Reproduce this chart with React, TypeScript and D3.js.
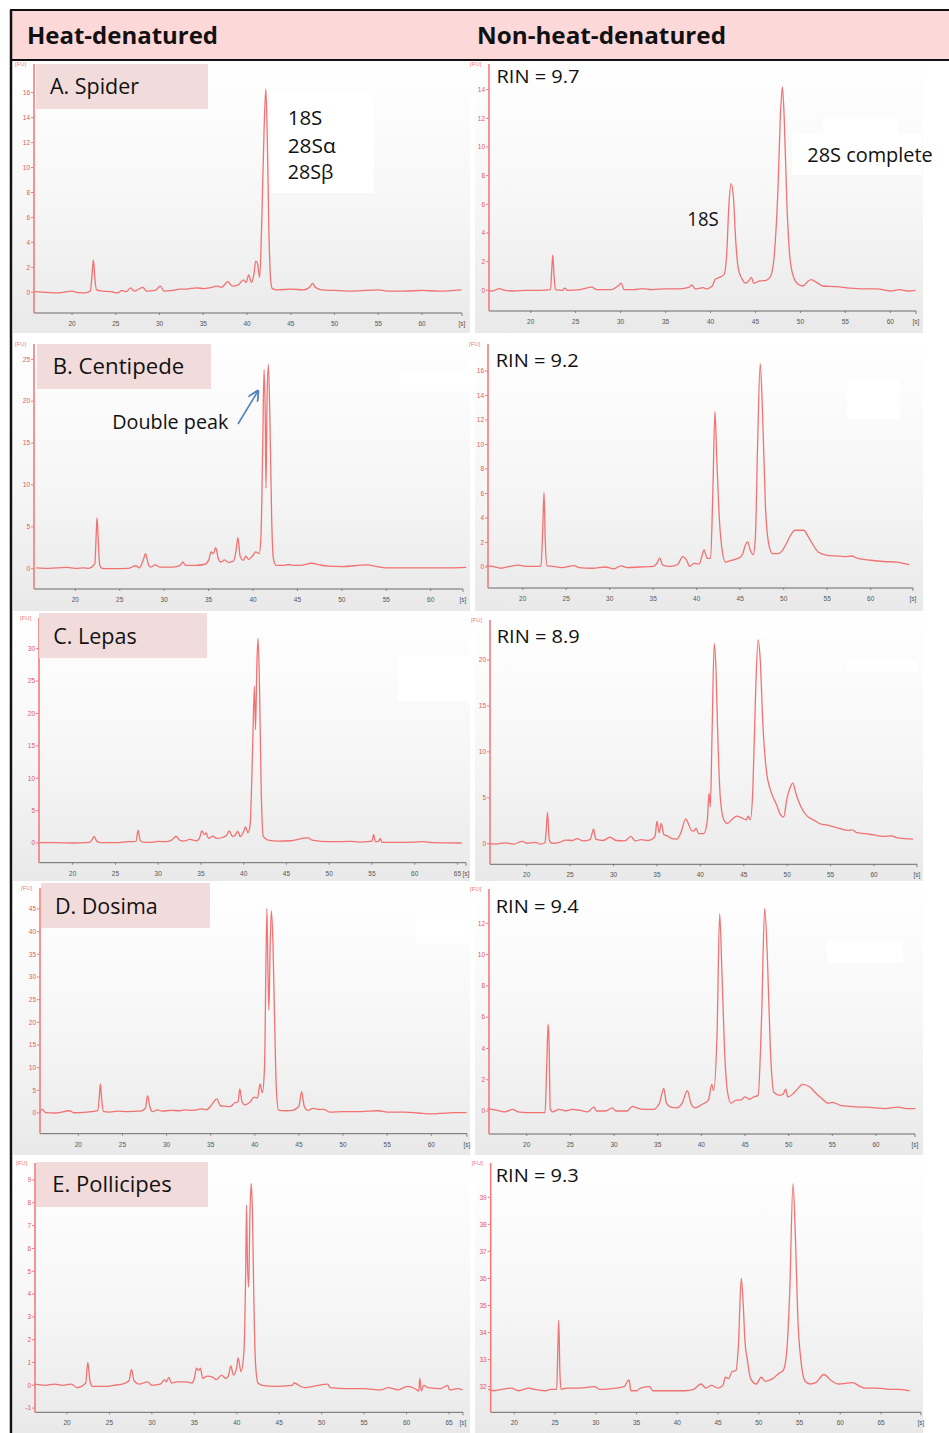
import React from "react";
import * as d3 from "d3";

type Pt = [number, number];

// Bioanalyzer traces, [time in s, fluorescence in FU]
const spiderHeat: Pt[] = [
  [15.7, 0.05], [17, 0.0], [18.5, -0.05], [20, 0.1], [20.5, 0], [21.5, -0.05], [22.1, 0.1], [22.3, 1.5], [22.45, 2.6],
  [22.6, 1.2], [22.8, 0.2], [23.5, 0.1], [24.5, 0.05], [25.2, -0.05], [25.7, 0.15], [26.2, 0.05], [26.7, 0.35], [27.1, 0.1],
  [28.1, 0.4], [28.5, 0.1], [29.5, 0.15], [30.1, 0.5], [30.5, 0.1], [31.5, 0.15], [32.3, 0.25], [33, 0.25], [33.5, 0.3],
  [34.3, 0.35], [35, 0.3], [35.7, 0.35], [36.6, 0.5], [37.1, 0.4], [37.8, 0.85], [38.3, 0.5], [39, 0.6], [39.6, 1.0],
  [39.9, 0.8], [40.2, 1.4], [40.5, 0.8], [40.8, 1.5], [41.0, 2.5], [41.2, 2.3], [41.45, 1.2], [41.7, 6], [41.95, 13],
  [42.15, 16.3], [42.3, 13], [42.5, 5], [42.7, 1.0], [42.9, 0.3], [43.5, 0.2], [45, 0.25], [46.5, 0.2], [47.2, 0.45],
  [47.5, 0.72], [47.8, 0.4], [48.5, 0.2], [50, 0.15], [52, 0.1], [55, 0.2], [56, 0.1], [58, 0.1], [60, 0.15], [62, 0.1],
  [64.5, 0.2],
];
const spiderNative: Pt[] = [
  [15.4, -0.05], [16, 0.0], [16.5, 0.12], [17, 0.02], [18, -0.05], [19.5, 0.0], [21, 0.0], [22.2, 0.05], [22.35, 1.5],
  [22.45, 2.45], [22.6, 1.0], [22.75, 0.05], [23.5, 0.0], [23.8, 0.15], [24.1, 0.0], [25.5, 0.05], [26.8, 0.22], [27.3, 0.05],
  [29, 0.05], [29.8, 0.35], [30.05, 0.5], [30.4, 0.05], [31.5, 0.05], [32.4, 0.12], [33.5, 0.05], [35, 0.1], [36.5, 0.1],
  [37.6, 0.2], [37.9, 0.38], [38.3, 0.1], [39.2, 0.18], [39.5, 0.1], [40.2, 0.3], [40.5, 0.75], [41.0, 0.9], [41.5, 1.1],
  [41.8, 2.5], [42.05, 6], [42.3, 7.45], [42.55, 6.5], [42.8, 3.5], [43.1, 1.5], [43.5, 0.8], [43.9, 0.5], [44.3, 0.7],
  [44.55, 0.9], [44.8, 0.5], [45.5, 0.65], [46.2, 0.7], [46.7, 1.0], [47.1, 2.5], [47.5, 7], [47.8, 12.5], [48.0, 14.2],
  [48.2, 12], [48.5, 6], [48.8, 2.5], [49.2, 1.0], [49.8, 0.4], [50.3, 0.3], [50.8, 0.6], [51.2, 0.75], [51.8, 0.55],
  [52.5, 0.3], [54, 0.25], [55.5, 0.15], [57, 0.1], [58.5, 0.1], [60, -0.05], [61, 0.05], [62, -0.05], [62.8, 0.0],
];
const centipedeHeat: Pt[] = [
  [15.6, 0.1], [17, 0.05], [19, 0.15], [20, 0.05], [21, 0.1], [21.5, 0.05], [22.2, 0.6], [22.35, 4], [22.45, 6.1],
  [22.6, 3], [22.75, 0.4], [23, 0.05], [24, 0.0], [26, 0.05], [26.8, 0.35], [27.2, 0.1], [27.7, 1.2], [27.9, 1.8],
  [28.2, 0.6], [28.5, 0.2], [29, 0.45], [29.5, 0.2], [31, 0.2], [31.8, 0.4], [32.1, 0.8], [32.4, 0.4], [33.5, 0.4],
  [34.5, 0.5], [35.0, 1.0], [35.3, 2.0], [35.55, 1.8], [35.8, 2.5], [36.1, 1.2], [36.4, 0.8], [36.8, 1.05], [37.2, 0.75],
  [37.8, 0.9], [38.1, 2.2], [38.3, 3.7], [38.55, 1.5], [38.9, 1.0], [39.2, 1.5], [39.5, 1.1], [40.0, 1.6], [40.3, 2.0],
  [40.7, 1.8], [40.9, 4], [41.1, 15], [41.24, 23.8], [41.38, 18], [41.46, 9.6], [41.58, 20], [41.73, 24.4], [41.9, 18],
  [42.1, 6], [42.3, 1.2], [42.6, 0.4], [43.5, 0.4], [44, 0.5], [44.5, 0.4], [45.3, 0.4], [46.6, 0.65], [47.5, 0.45],
  [48.5, 0.3], [50, 0.25], [52.8, 0.45], [54, 0.25], [55, 0.1], [57, 0.1], [60, 0.1], [62, 0.1], [64, 0.15],
];
const centipedeNative: Pt[] = [
  [15.8, 0.1], [16.5, 0.05], [17.5, -0.1], [18.5, 0.05], [19.5, 0.15], [20.5, 0.05], [21.5, 0.05], [22.1, 0.1], [22.3, 3],
  [22.45, 6.1], [22.6, 2], [22.8, 0.1], [23.5, 0.05], [24.5, -0.05], [25.9, 0.12], [26.5, -0.05], [28, -0.1], [29.5, 0.0],
  [30.5, -0.15], [31.3, 0.1], [32, -0.05], [33.5, 0.0], [35, 0.05], [35.5, 0.4], [35.75, 0.75], [36.1, 0.15], [37, 0.05],
  [37.8, 0.2], [38.4, 0.85], [38.8, 0.6], [39.2, 0.05], [39.7, 0.3], [40.3, 0.25], [40.6, 0.9], [40.85, 1.4], [41.2, 0.7],
  [41.6, 0.7], [41.85, 6], [42.1, 12.7], [42.3, 9], [42.6, 4], [42.9, 1.5], [43.3, 0.4], [43.8, 0.5], [44.5, 0.65],
  [45.0, 0.8], [45.3, 1.1], [45.6, 1.8], [45.85, 2.05], [46.2, 1.3], [46.5, 1.0], [46.75, 2.5], [47.0, 10], [47.3, 16.6],
  [47.55, 13], [47.9, 5], [48.3, 1.8], [48.7, 1.1], [49.3, 1.1], [49.8, 1.3], [50.3, 1.9], [50.8, 2.6], [51.3, 3.0],
  [52.3, 3.0], [52.8, 2.5], [53.3, 1.9], [54, 1.2], [55, 0.95], [56, 0.9], [57, 0.85], [57.8, 0.9], [58.5, 0.7], [60, 0.55],
  [61.5, 0.45], [63, 0.4], [63.7, 0.3], [64.4, 0.2],
];
const lepasHeat: Pt[] = [
  [16, 0.05], [18, 0.05], [20, 0], [22, 0.1], [22.3, 0.6], [22.5, 1.0], [22.8, 0.3], [23.2, 0.05], [25, 0.05], [26.5, 0.2],
  [27.4, 0.25], [27.65, 2.0], [27.9, 0.4], [28.3, 0.1], [29.5, 0.15], [30, 0.25], [31, 0.2], [31.5, 0.4], [32.1, 1.0],
  [32.5, 0.45], [33, 0.3], [33.7, 0.55], [34.5, 0.35], [34.9, 1.0], [35.1, 1.85], [35.4, 1.3], [35.6, 1.55], [35.9, 0.7],
  [36.4, 1.05], [36.8, 0.7], [37.5, 0.85], [38.0, 1.2], [38.3, 1.85], [38.7, 1.0], [39.0, 1.2], [39.3, 1.8], [39.6, 1.0],
  [40.0, 1.8], [40.2, 2.5], [40.5, 1.6], [40.75, 2.8], [41.05, 15], [41.25, 24.2], [41.38, 17.5], [41.55, 28],
  [41.68, 31.6], [41.85, 24], [42.05, 8], [42.3, 1.0], [43, 0.4], [44, 0.3], [45.5, 0.35], [46.5, 0.6], [47.0, 0.75],
  [47.5, 0.8], [48, 0.45], [50, 0.2], [52.5, 0.25], [53.5, 0.15], [55.0, 0.3], [55.2, 1.3], [55.4, 0.2], [55.8, 0.3],
  [55.95, 0.7], [56.2, 0.1], [58, 0.1], [60, 0.15], [61, 0.2], [62, 0.05], [65.5, 0],
];
const lepasNative: Pt[] = [
  [15.6, 0], [16.5, -0.05], [17.5, 0.1], [18.5, -0.05], [19.5, 0.25], [20, 0.05], [21, 0.15], [21.6, -0.05], [22.1, 0.1],
  [22.25, 1.5], [22.4, 3.4], [22.6, 0.4], [22.9, 0.05], [23.8, 0.15], [24.5, 0.4], [25.3, 0.35], [25.8, 0.55], [26.5, 0.3],
  [27.3, 0.45], [27.55, 1.2], [27.7, 1.6], [27.95, 0.5], [28.8, 0.35], [29.6, 0.7], [30.3, 0.35], [31.3, 0.3], [32, 0.8],
  [32.5, 0.3], [33.2, 0.45], [34, 0.35], [34.6, 0.6], [34.8, 0.9], [35.0, 2.45], [35.25, 1.2], [35.5, 2.2], [35.8, 1.0],
  [36.3, 0.8], [36.7, 0.55], [37.3, 0.5], [37.8, 1.3], [38.3, 2.7], [38.7, 2.0], [39.0, 1.4], [39.3, 1.4], [39.5, 1.7],
  [39.8, 1.1], [40.4, 1.1], [40.8, 2.5], [41.0, 5.5], [41.15, 4.0], [41.35, 12], [41.6, 21.8], [41.8, 19], [42.0, 12],
  [42.3, 5], [42.7, 2.6], [43.1, 2.2], [43.6, 2.6], [44.2, 3.0], [44.8, 2.8], [45.3, 2.6], [45.5, 3.0], [45.75, 2.6],
  [46.05, 6], [46.35, 16], [46.65, 22.2], [46.9, 20], [47.2, 13], [47.6, 8], [48.2, 5.5], [48.8, 4.2], [49.2, 3.2],
  [49.6, 2.9], [49.95, 4.8], [50.3, 6.0], [50.65, 6.6], [51.0, 5.5], [51.6, 4.0], [52.3, 3.0], [53.0, 2.6], [54.0, 2.1],
  [54.5, 2.05], [55.5, 1.8], [57, 1.45], [57.5, 1.5], [58, 1.2], [59, 1.1], [60, 0.95], [61, 0.8], [62, 0.85], [62.5, 0.7],
  [63.5, 0.55], [64.5, 0.5],
];
const dosimaHeat: Pt[] = [
  [15.6, 0.1], [15.9, 0.8], [16.3, 0.1], [17.5, 0.0], [19.0, 0.5], [19.5, 0.05], [21.0, 0.2], [22.2, 0.5], [22.4, 4],
  [22.5, 6.4], [22.65, 3], [22.85, 0.3], [23.5, 0.2], [24.5, 0.4], [25.5, 0.3], [27, 0.4], [27.6, 1.0], [27.85, 3.8],
  [28.1, 1.5], [28.4, 0.3], [29.0, 0.7], [29.5, 0.4], [30.5, 0.6], [31.5, 0.5], [32, 0.7], [33, 0.6], [34, 0.9], [34.5, 0.7],
  [35.0, 1.5], [35.4, 2.6], [35.7, 3.1], [36.1, 1.6], [36.6, 1.5], [37.2, 1.4], [37.7, 2.2], [38.1, 2.5], [38.3, 5.3],
  [38.55, 2.5], [38.9, 1.8], [39.5, 2.5], [39.9, 3.5], [40.3, 3.3], [40.6, 6.4], [40.85, 4.5], [41.1, 10], [41.37, 45.1],
  [41.5, 30], [41.6, 22.7], [41.72, 35], [41.87, 44.6], [42.05, 38], [42.25, 20], [42.45, 5], [42.7, 0.6], [43.5, 0.5],
  [44.3, 0.6], [45.0, 1.5], [45.3, 4.7], [45.6, 1.5], [46.0, 0.6], [46.6, 1.0], [47.2, 0.8], [47.8, 0.8], [48.5, 0.2],
  [50, 0.3], [52, 0.3], [54, 0.5], [55, 0.2], [57, 0.2], [58.5, 0], [60, -0.2], [61, -0.1], [62.5, 0.1], [64, 0.1],
];
const dosimaNative: Pt[] = [
  [15.5, 0.15], [16.5, 0.05], [17.5, -0.05], [18.4, 0.1], [19, -0.05], [20, -0.1], [21, -0.1], [22.1, -0.1], [22.3, 3],
  [22.45, 5.55], [22.55, 4.6], [22.7, 0.1], [23.0, -0.05], [23.7, 0.1], [24.5, 0.0], [25.2, 0.1], [26, 0.05], [27, -0.05],
  [27.7, 0.25], [28, 0.0], [29, 0.0], [29.8, 0.2], [30.2, 0.0], [31.5, 0.0], [32.1, 0.3], [32.6, 0.2], [33.5, 0.1],
  [34.5, 0.1], [35.2, 0.5], [35.7, 1.45], [36.0, 0.5], [36.5, 0.25], [37.2, 0.2], [37.8, 0.5], [38.4, 1.3], [38.8, 0.5],
  [39.3, 0.2], [40, 0.4], [40.8, 0.7], [41.2, 1.7], [41.4, 1.3], [41.8, 5], [42.1, 12.6], [42.35, 9], [42.65, 4],
  [43.0, 1.2], [43.4, 0.5], [44, 0.7], [44.5, 0.7], [45.0, 0.9], [45.5, 0.75], [46.0, 0.9], [46.5, 1.0], [46.9, 6],
  [47.25, 12.95], [47.55, 10], [47.9, 4], [48.3, 1.2], [49, 1.0], [49.4, 1.1], [49.65, 1.4], [49.9, 0.9], [50.5, 1.1],
  [51, 1.4], [51.6, 1.7], [52.2, 1.6], [52.5, 1.5], [53, 1.2], [53.8, 0.8], [54.5, 0.5], [55, 0.55], [56, 0.35], [57, 0.3],
  [58, 0.25], [59, 0.25], [60, 0.2], [61, 0.15], [62.5, 0.25], [63.5, 0.15], [64.5, 0.15],
];
const pollicipesHeat: Pt[] = [
  [16.2, 0.05], [17.5, 0.0], [18.5, 0.05], [19.5, 0.0], [20.5, 0.05], [21.2, -0.1], [22.2, 0.1], [22.45, 1.0], [22.7, 0.2],
  [23, -0.05], [24.5, -0.05], [25.5, 0.0], [26.5, 0.05], [27.3, 0.2], [27.6, 0.7], [27.9, 0.2], [28.5, 0.05], [29.5, 0.15],
  [30, 0.0], [31, 0.05], [31.5, 0.25], [31.7, 0.15], [32.0, 0.35], [32.3, 0.1], [33, 0.15], [34, 0.15], [34.7, 0.1],
  [35.0, 0.3], [35.25, 0.75], [35.5, 0.65], [35.7, 0.75], [36.0, 0.3], [36.5, 0.4], [37.2, 0.35], [37.6, 0.25], [38.2, 0.45],
  [38.7, 0.3], [39.0, 0.4], [39.3, 0.85], [39.6, 0.45], [40.0, 0.8], [40.15, 1.2], [40.5, 0.6], [40.85, 1.5], [41.05, 5],
  [41.15, 7.9], [41.25, 5.5], [41.4, 4.3], [41.55, 7.5], [41.7, 8.85], [41.85, 7.5], [42.0, 4], [42.2, 1.0], [42.5, 0.1],
  [43, 0.0], [44.5, -0.05], [46.5, 0.0], [46.8, 0.1], [47.5, -0.05], [48, -0.1], [49, -0.05], [50.7, 0.05], [51, -0.1],
  [53, -0.15], [55, -0.15], [57, -0.2], [57.8, -0.1], [59, -0.2], [60.1, -0.05], [61, -0.15], [61.45, -0.25], [61.55, 0.3],
  [61.75, -0.25], [62, 0.0], [62.5, -0.1], [64, -0.15], [64.85, 0.0], [65.05, -0.2], [66, -0.15], [66.6, -0.2],
];
const pollicipesNative: Pt[] = [
  [16.8, 31.9], [17.5, 31.85], [18.5, 31.9], [19.6, 31.95], [20.5, 31.85], [21.8, 31.95], [22.5, 31.9], [23.8, 31.85],
  [24.5, 31.9], [25.2, 31.9], [25.35, 33.5], [25.45, 34.45], [25.6, 32.5], [25.75, 31.9], [26.5, 31.95], [28, 31.95],
  [29.8, 32.0], [30.5, 31.9], [32.5, 31.95], [33.5, 32.0], [33.9, 32.2], [34.1, 32.25], [34.3, 31.85], [35, 31.85],
  [35.5, 31.95], [36.6, 32.0], [37, 31.85], [38.5, 31.85], [40, 31.85], [41, 31.85], [42, 31.9], [42.9, 32.1], [43.5, 31.95],
  [44.2, 32.05], [45, 31.95], [45.6, 32.05], [45.9, 32.35], [46.3, 32.3], [46.7, 32.55], [47.2, 32.6], [47.5, 33.5],
  [47.85, 36.0], [48.1, 35.0], [48.3, 33.7], [48.6, 33.0], [49.0, 32.3], [49.7, 32.1], [50.3, 32.35], [50.8, 32.2],
  [51.7, 32.3], [52.5, 32.5], [53.0, 32.6], [53.4, 33.2], [53.8, 35.5], [54.2, 39.5], [54.5, 37.5], [54.8, 34.5],
  [55.2, 32.9], [55.7, 32.2], [56.3, 32.1], [57.0, 32.15], [58.0, 32.45], [58.8, 32.25], [59.8, 32.1], [61.5, 32.15],
  [62.5, 32.0], [63, 31.95], [64.5, 31.95], [66, 31.9], [67, 31.9], [68.5, 31.85],
];

const columnTitles = ["Heat-denatured", "Non-heat-denatured"];
const sampleNames = ["A. Spider", "B.  Centipede", "C. Lepas", "D. Dosima", "E. Pollicipes"];
const rinValues = ["9.7", "9.2", "8.9", "9.4", "9.3"];

const xTicks60 = [20, 25, 30, 35, 40, 45, 50, 55, 60];
const xTicks65 = [20, 25, 30, 35, 40, 45, 50, 55, 60, 65];
const yTicksA = [0, 2, 4, 6, 8, 10, 12, 14, 16];
const yTicksAR = [0, 2, 4, 6, 8, 10, 12, 14];
const yTicksB = [0, 5, 10, 15, 20, 25];
const yTicksBR = [0, 2, 4, 6, 8, 10, 12, 14, 16];
const yTicksC = [0, 5, 10, 15, 20, 25, 30];
const yTicksCR = [0, 5, 10, 15, 20];
const yTicksD = [0, 5, 10, 15, 20, 25, 30, 35, 40, 45];
const yTicksDR = [0, 2, 4, 6, 8, 10, 12];
const yTicksE = [-1, 0, 1, 2, 3, 4, 5, 6, 7, 8, 9];
const yTicksER = [32, 33, 34, 35, 36, 37, 38, 39];

// screenshot geometry: bg box, y-axis x, axis top, x-axis y, axis end, two x refs, two y refs
type Panel = {
  data: Pt[]; yTicks: number[]; xTicks: number[];
  bg: number[]; ax: number; top: number; base: number; end: number;
  xs: number[]; ys: number[]; endLabel?: string;
};

const panels: Panel[] = [
  { data: spiderHeat, yTicks: yTicksA, xTicks: xTicks60, bg: [13, 61, 457, 272], ax: 34, top: 64, base: 313, end: 462, xs: [20, 72, 60, 422], ys: [0, 292.3, 16, 92.7] },
  { data: spiderNative, yTicks: yTicksAR, xTicks: xTicks60, bg: [475, 61, 448, 272], ax: 489, top: 64, base: 311, end: 916, xs: [20, 530.7, 60, 890.3], ys: [0, 290.3, 14, 89.7] },
  { data: centipedeHeat, yTicks: yTicksB, xTicks: xTicks60, bg: [13, 337, 457, 274], ax: 34, top: 344, base: 589, end: 463, xs: [20, 75.3, 60, 430.7], ys: [0, 568.7, 25, 359.3] },
  { data: centipedeNative, yTicks: yTicksBR, xTicks: xTicks60, bg: [475, 337, 448, 274], ax: 488, top: 344, base: 588, end: 913, xs: [20, 522.7, 60, 870.7], ys: [0, 567, 16, 371] },
  { data: lepasHeat, yTicks: yTicksC, xTicks: xTicks65, bg: [13, 613, 457, 268], ax: 39, top: 618, base: 862.7, end: 466, xs: [20, 72.7, 60, 414.7], ys: [0, 843, 30, 648.7] },
  { data: lepasNative, yTicks: yTicksCR, xTicks: xTicks60, bg: [475, 613, 448, 268], ax: 490, top: 620, base: 864.3, end: 917, xs: [20, 526.7, 60, 874], ys: [0, 843.7, 20, 660] },
  { data: dosimaHeat, yTicks: yTicksD, xTicks: xTicks60, bg: [13, 883, 457, 272], ax: 40, top: 888, base: 1133.7, end: 467, xs: [20, 78.3, 60, 431.3], ys: [0, 1113, 45, 909] },
  { data: dosimaNative, yTicks: yTicksDR, xTicks: xTicks60, bg: [475, 883, 448, 272], ax: 489, top: 889, base: 1134, end: 915, xs: [20, 526.7, 60, 876], ys: [0, 1111, 12, 923.3] },
  { data: pollicipesHeat, yTicks: yTicksE, xTicks: xTicks65, bg: [13, 1157, 457, 276], ax: 35, top: 1163, base: 1412.3, end: 463, xs: [20, 67, 65, 449], ys: [0, 1385.3, 9, 1180] },
  { data: pollicipesNative, yTicks: yTicksER, xTicks: xTicks65, bg: [475, 1157, 448, 276], ax: 490.7, top: 1163, base: 1412.3, end: 921, xs: [20, 514.3, 65, 881], ys: [32, 1386.7, 39, 1197.3] },
];

// pink label boxes and text (x, baseline, width)
const labelBoxes = [[36, 64, 172, 45], [37, 344, 174, 45], [39, 613, 168, 45], [41, 883, 169, 45], [36, 1162, 172, 45]];
const labelText = [[50, 94, 89], [52.7, 374, 131.6], [53.3, 644, 83.4], [55, 914, 102.7], [52.3, 1192, 119.4]];
const rinText = [[496.5, 83.3], [495.7, 366.7], [496.7, 642.7], [495.7, 912.7], [495.7, 1182.3]];
const whiteMasks = [
  [271, 93, 103, 100], [792, 133, 130, 42], [823, 117, 75, 16], [400, 373, 70, 18], [847, 380, 53, 39],
  [398, 656, 72, 45], [847, 660, 70, 11], [416, 919, 53, 24], [827, 940, 76, 23],
];

const FONT = "'Open Sans', 'Noto Sans', sans-serif";
const TICKFONT = "'Liberation Sans', Arial, sans-serif";
const TRACE = "#f26464";
const AXIS = "#f37b7b";

function Electropherogram({ p }: { p: Panel }) {
  const x = d3.scaleLinear().domain([p.xs[0], p.xs[2]]).range([p.xs[1], p.xs[3]]);
  const y = d3.scaleLinear().domain([p.ys[0], p.ys[2]]).range([p.ys[1], p.ys[3]]);
  const line = d3.line<Pt>().x((d) => x(d[0])).y((d) => y(d[1])).curve(d3.curveMonotoneX);
  const [bx, by, bw, bh] = p.bg;
  return (
    <g>
      <rect x={bx} y={by} width={bw} height={bh} fill="url(#shot)" />
      <path d={line(p.data) ?? ""} fill="none" stroke={TRACE} strokeWidth={1.3} strokeOpacity={0.9} strokeLinejoin="round" />
      <line x1={p.ax} x2={p.end} y1={p.base} y2={p.base} stroke="#6b6b6b" strokeWidth={1} />
      <line x1={p.ax} x2={p.ax} y1={p.top} y2={p.base} stroke={AXIS} strokeWidth={1.6} />
      <text x={p.ax - 19} y={p.top + 2} fontFamily={TICKFONT} fontSize={6} fill={AXIS}>[FU]</text>
      {p.yTicks.map((t) => (
        <g key={t}>
          <line x1={p.ax - 3} x2={p.ax} y1={y(t)} y2={y(t)} stroke={AXIS} strokeWidth={1} />
          <text x={p.ax - 4} y={y(t)} dy="0.35em" textAnchor="end" fontFamily={TICKFONT} fontSize={6.5} fill="#e05a5a">{t}</text>
        </g>
      ))}
      {p.xTicks.map((t) => (
        <g key={t}>
          <line x1={x(t)} x2={x(t)} y1={p.base} y2={p.base + 2} stroke="#6b6b6b" strokeWidth={0.8} />
          <text x={x(t)} y={p.base + 13} textAnchor="middle" fontFamily={TICKFONT} fontSize={6.5} fill="#555">{t}</text>
        </g>
      ))}
      <line x1={p.end} x2={p.end} y1={p.base} y2={p.base + 3} stroke="#6b6b6b" strokeWidth={0.8} />
      <text x={p.end} y={p.base + 13} textAnchor="middle" fontFamily={TICKFONT} fontSize={6.5} fill="#555">[s]</text>
    </g>
  );
}

export default function App() {
  return (
    <svg width={949} height={1433} viewBox="0 0 949 1433" style={{ position: "absolute", left: 0, top: 0, background: "#fff" }}>
      <defs>
        <linearGradient id="shot" x1="0" y1="0" x2="0" y2="1">
          <stop offset="0" stopColor="#ffffff" />
          <stop offset="0.55" stopColor="#f6f6f6" />
          <stop offset="1" stopColor="#e9e9e9" />
        </linearGradient>
        <marker id="arrowhead" viewBox="0 0 10 10" refX="9" refY="5" markerWidth="7" markerHeight="7" orient="auto">
          <path d="M0,0 L10,5 L0,10" fill="none" stroke="#4f81bd" strokeWidth={1.6} />
        </marker>
      </defs>

      {panels.map((p, i) => <Electropherogram key={i} p={p} />)}

      {whiteMasks.map(([mx, my, mw, mh], i) => (
        <rect key={i} x={mx} y={my} width={mw} height={mh} fill="#ffffff" />
      ))}

      {labelBoxes.map(([lx, ly, lw, lh], i) => (
        <g key={i}>
          <rect x={lx} y={ly} width={lw} height={lh} fill="#f2dcdb" />
          <text x={labelText[i][0]} y={labelText[i][1]} textLength={labelText[i][2]} lengthAdjust="spacingAndGlyphs"
            fontFamily={FONT} fontSize={22} fill="#111">{sampleNames[i]}</text>
        </g>
      ))}

      {rinValues.map((r, i) => (
        <text key={i} x={rinText[i][0]} y={rinText[i][1]} textLength={83} lengthAdjust="spacingAndGlyphs"
          fontFamily={FONT} fontSize={19} fill="#111">{`RIN = ${r}`}</text>
      ))}

      {/* annotations */}
      <g fontFamily={FONT} fontSize={20} fill="#111">
        <text x={287.7} y={125} textLength={34.6} lengthAdjust="spacingAndGlyphs">18S</text>
        <text x={287.7} y={152.7} textLength={48} lengthAdjust="spacingAndGlyphs">28Sα</text>
        <text x={287.7} y={178.5} textLength={45.6} lengthAdjust="spacingAndGlyphs">28Sβ</text>
        <text x={687.3} y={225.7} textLength={31.4} lengthAdjust="spacingAndGlyphs">18S</text>
        <text x={807.3} y={162.3} textLength={125.4} lengthAdjust="spacingAndGlyphs">28S complete</text>
        <text x={112.3} y={429} textLength={116} lengthAdjust="spacingAndGlyphs">Double peak</text>
      </g>
      <line x1={238} y1={424} x2={258} y2={391} stroke="#4f81bd" strokeWidth={1.6} markerEnd="url(#arrowhead)" />

      {/* header band and left rule */}
      <rect x={11} y={10} width={945} height={50} fill="#fdd8d8" stroke="#111" strokeWidth={2} />
      <line x1={11} x2={11} y1={10} y2={1433} stroke="#111" strokeWidth={2.5} />
      <text x={27} y={44} textLength={191} lengthAdjust="spacingAndGlyphs" fontFamily={FONT} fontWeight={700} fontSize={24} fill="#111">{columnTitles[0]}</text>
      <text x={477} y={44} textLength={249} lengthAdjust="spacingAndGlyphs" fontFamily={FONT} fontWeight={700} fontSize={24} fill="#111">{columnTitles[1]}</text>
    </svg>
  );
}
